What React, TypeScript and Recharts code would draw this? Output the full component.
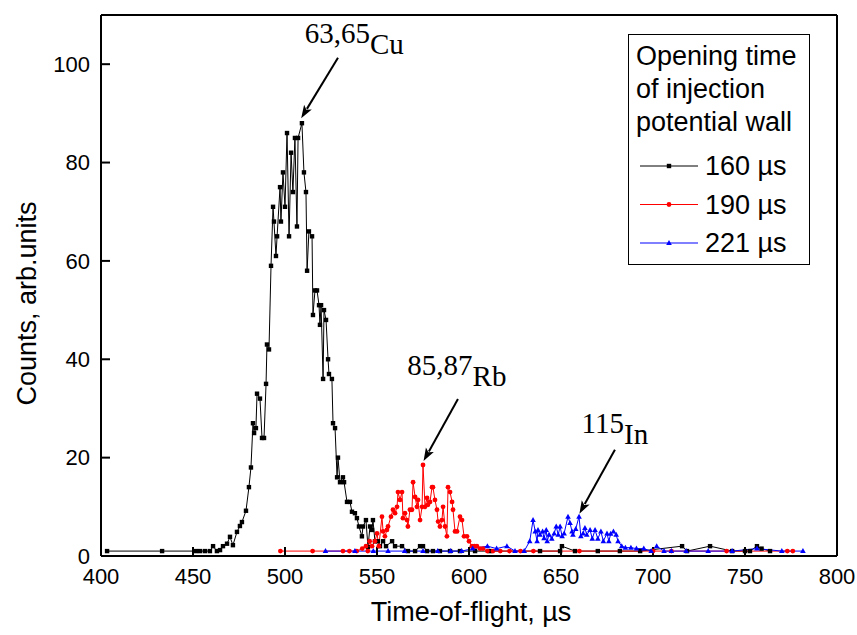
import React from 'react';
import { LineChart, Line, XAxis, YAxis, ReferenceLine, ReferenceDot, Legend } from 'recharts';

const xTicks = [400, 450, 500, 550, 600, 650, 700, 750, 800];
const yTicks = [0, 20, 40, 60, 80, 100];

const series160: [number, number][] = [
  [403.3, 1], [433.2, 1], [451.6, 1], [453.8, 1], [456.5, 1], [459.2, 1], [460.9, 2], [463, 1], [464.7, 1.2], [466.3, 2],
  [468.5, 2.5], [470.1, 3.9], [471.7, 2.2], [473.9, 4.9], [475.5, 6.1], [476.6, 6.9], [478.8, 9.2], [480.4, 14], [481.5, 18],
  [482.6, 27], [483.2, 25], [484.2, 26], [484.8, 33], [486.4, 32], [487.5, 24], [488.6, 24], [489.7, 35], [490.2, 43],
  [491.3, 42], [492.4, 59], [493.5, 71], [494, 68], [495.1, 61], [495.7, 65], [497.3, 75], [497.8, 68], [498.9, 78],
  [500, 71], [501.1, 86], [502.2, 65], [503.3, 82], [504.3, 74], [505.4, 85], [506.5, 67], [507.1, 85], [509.2, 88],
  [510.3, 78], [511.4, 74], [512, 58], [513, 66], [514.7, 65], [515.2, 49], [516.3, 54], [517.4, 54], [518.5, 51],
  [519, 47], [519.6, 51], [520.7, 36], [521.2, 50], [522.3, 48], [523.4, 40], [523.9, 37], [525.5, 36], [526.1, 27],
  [527.2, 26], [528.3, 16], [528.8, 20], [529.9, 15], [531.5, 16], [532.1, 15], [533.7, 11], [535.3, 11], [536.4, 9],
  [538, 8.7], [539.1, 7.7], [540.2, 6], [541.8, 4], [542.4, 6], [544, 7.3], [545.1, 1.8], [546.2, 6], [547.3, 5.3],
  [547.8, 7.3], [548.9, 3], [550.5, 3], [551.6, 2], [553.3, 3], [554.9, 2], [558.2, 3], [559.8, 2], [563.6, 2],
  [566.8, 1], [570.7, 1], [573.4, 2], [575, 2], [577.2, 1], [580.4, 1], [584.2, 1], [589.7, 1], [595.1, 1], [603.3, 1],
  [611.4, 1], [638.6, 1], [649.5, 1], [650.5, 2], [657.6, 1], [670, 1], [682, 1], [693, 1], [715.8, 2], [718.5, 1],
  [731, 2], [743, 1], [750, 1], [752.7, 1], [756.5, 2], [759, 1.5], [763.6, 1],
];

const series190: [number, number][] = [
  [497.5, 1], [515, 1], [531.5, 1], [535, 1], [539, 1], [542, 1.5], [544, 2], [545, 1], [546, 3], [547.3, 2], [548.9, 3],
  [550, 4.6], [551, 2], [552.7, 8], [553.3, 5], [554.3, 4], [555.4, 5.3], [556, 6], [557.6, 8], [558.7, 9.4], [559.8, 8.7],
  [560.9, 10], [561.4, 13], [562.5, 11.4], [563.6, 13], [564.1, 7.7], [565.2, 8.7], [566.3, 7.3], [566.8, 6], [567.9, 9.4],
  [569, 9.4], [569.6, 15], [570.7, 12], [571.7, 10], [572.3, 11.4], [573.4, 7.3], [574.5, 10], [575, 18.5], [576.1, 10],
  [577.2, 11.8], [577.7, 10.4], [578.8, 11], [579.9, 14], [580.4, 14], [581.5, 11.4], [582.6, 9.4], [583.2, 7], [584.2, 6],
  [585.3, 7.3], [585.9, 10], [587, 6], [588, 4], [588.6, 14], [589.7, 13], [590.8, 11], [591.3, 9.4], [592.4, 5],
  [593.5, 5], [595.1, 8], [596.2, 7.3], [597.3, 4], [598.9, 4], [600, 3], [601.6, 2], [603, 2], [604.3, 2], [606, 1.5],
  [607.6, 1.5], [610, 1], [613, 1], [617, 1], [622, 1], [628, 1], [635, 1], [660, 1], [700, 1], [710, 1], [740, 1],
  [773, 1], [776, 1],
];

const series221: [number, number][] = [
  [522, 1], [538, 1], [548, 1], [556, 1], [565, 1], [575, 1], [583, 1], [590, 1], [596, 1], [602, 1.5], [610, 2],
  [615, 1.5], [620.6, 2], [625, 1], [630, 1], [633, 3], [634.8, 7.3], [636, 5], [637, 3], [637.5, 5.3], [638.6, 4.3],
  [640, 5], [640.8, 3.6], [642, 5.3], [642.5, 3], [643.5, 4.3], [645, 3.5], [646.3, 4.6], [647.4, 6], [648.5, 4.3],
  [649.5, 6], [650.6, 4], [651.7, 4.6], [653.8, 8], [654.9, 6.7], [656, 5], [656.5, 4.3], [658, 5.5], [659.8, 8],
  [660.8, 4], [662, 4.6], [663, 5.7], [664, 4.3], [665.8, 5.3], [667, 3.5], [668.5, 5.3], [670, 3.5], [671.7, 5],
  [673, 3], [675, 4.6], [676, 3], [677, 4.5], [678.5, 5], [680, 4.3], [681, 3], [683, 2], [685, 1.7], [688, 1.7],
  [691, 1.5], [695, 1.5], [699, 1], [702, 2], [706, 1], [710, 1], [718, 1], [730, 1], [743, 1], [756.5, 1.5],
  [770, 1], [781.5, 1],
];

const seriesNames = ['160 \u00b5s', '190 \u00b5s', '221 \u00b5s'];
const seriesColors = ['#000000', '#ff0000', '#0000ff'];
const seriesMarkers = ['square', 'circle', 'triangle'];
const legendTitle = ['Opening time', 'of injection', 'potential wall'];

const peakMass = ['63,65', '85,87', '115'];
const peakElement = ['Cu', 'Rb', 'In'];
const peakLabelAt: [number, number][] = [[510.7, 104.3], [566.5, 36.8], [661.2, 25]];
const arrowFrom: [number, number][] = [[528.8, 101.3], [594, 31.9], [679.3, 21.6]];
const arrowTo: [number, number][] = [[508.8, 89], [575.3, 19.3], [660, 8.6]];

const allSeries = [series160, series190, series221].map((s) => s.map(([t, v]) => ({ t, v })));

const SANS = "'Liberation Sans', Arial, Helvetica, sans-serif";
const SERIF = "'Liberation Serif', 'Times New Roman', serif";

function makeDot(kind: string, color: string) {
  return (p: any) => {
    const { cx, cy, index } = p;
    if (cx == null || cy == null) return <g key={`d-${index}`} />;
    if (kind === 'square')
      return <rect key={`d-${index}`} x={cx - 2.2} y={cy - 2.2} width={4.4} height={4.4} fill={color} />;
    if (kind === 'circle') return <circle key={`d-${index}`} cx={cx} cy={cy} r={2.4} fill={color} />;
    return (
      <polygon key={`d-${index}`} points={`${cx},${cy - 3} ${cx - 2.8},${cy + 2} ${cx + 2.8},${cy + 2}`} fill={color} />
    );
  };
}

const ArrowShape = (p: any) => {
  const { x1, y1, x2, y2 } = p;
  const dx = x2 - x1;
  const dy = y2 - y1;
  const len = Math.sqrt(dx * dx + dy * dy) || 1;
  const ux = dx / len;
  const uy = dy / len;
  const hl = 13;
  const hw = 4.5;
  const bx = x2 - ux * hl;
  const by = y2 - uy * hl;
  const px = -uy;
  const py = ux;
  return (
    <g>
      <line x1={x1} y1={y1} x2={bx + ux * 2} y2={by + uy * 2} stroke="#000" strokeWidth={2} />
      <polygon
        points={`${x2},${y2} ${bx + px * hw},${by + py * hw} ${bx + ux * 3},${by + uy * 3} ${bx - px * hw},${by - py * hw}`}
        fill="#000"
      />
    </g>
  );
};

const LEG_W = 181;
const LEG_H = 230;

const renderLegend = () => (
  <svg width={LEG_W + 1} height={LEG_H + 1} style={{ display: 'block' }}>
    <rect x={0.5} y={0.5} width={LEG_W} height={LEG_H} fill="#fff" stroke="#000" strokeWidth={1} />
    {legendTitle.map((line, i) => (
      <text key={line} x={8} y={31 + i * 33} fontFamily={SANS} fontSize={27} fill="#000">
        {line}
      </text>
    ))}
    {seriesNames.map((name, i) => {
      const y = 141 + i * 38.5;
      const dot = makeDot(seriesMarkers[i], seriesColors[i]);
      return (
        <g key={name}>
          <line x1={12} y1={y - 9} x2={70} y2={y - 9} stroke={seriesColors[i]} strokeWidth={1} />
          {dot({ cx: 41, cy: y - 9, index: i })}
          <text x={77} y={y} fontFamily={SANS} fontSize={27} fill="#000">
            {name}
          </text>
        </g>
      );
    })}
  </svg>
);

const axisLineStyle = { stroke: '#000', strokeWidth: 2 };
const tickStyle = { fill: '#000', fontSize: 22, fontFamily: SANS };

export default function App() {
  return (
    <div style={{ position: 'absolute', left: 0, top: 0, width: 857, height: 635, background: '#fff' }}>
      <LineChart width={857} height={635} margin={{ top: 14, right: 19, bottom: 0, left: 0 }}>
        <XAxis
          xAxisId="b"
          dataKey="t"
          type="number"
          domain={[400, 800]}
          ticks={xTicks}
          allowDataOverflow
          height={79}
          axisLine={axisLineStyle}
          tickLine={axisLineStyle}
          tickSize={-9}
          tickMargin={21}
          tick={tickStyle}
          label={(props: any) => {
            const vb = props.viewBox || {};
            return (
              <text
                x={vb.x + vb.width / 2 + 2}
                y={621}
                textAnchor="middle"
                fontFamily={SANS}
                fontSize={27}
                fill="#000"
              >
                Time-of-flight, {'\u00b5'}s
              </text>
            );
          }}
        />
        <XAxis
          xAxisId="top"
          orientation="top"
          type="number"
          dataKey="t"
          domain={[400, 800]}
          ticks={xTicks}
          allowDataOverflow
          height={1}
          axisLine={axisLineStyle}
          tickLine={axisLineStyle}
          tickSize={-9}
          tick={false}
        />
        <YAxis
          yAxisId="l"
          type="number"
          domain={[0, 110]}
          ticks={yTicks}
          allowDataOverflow
          width={101}
          axisLine={axisLineStyle}
          tickLine={axisLineStyle}
          tickSize={-9}
          tickMargin={20}
          tick={tickStyle}
          label={(props: any) => {
            const vb = props.viewBox || {};
            const cy = vb.y + vb.height / 2 + 18;
            return (
              <text
                x={27}
                y={cy}
                transform={`rotate(-90, 27, ${cy})`}
                textAnchor="middle"
                dominantBaseline="central"
                fontFamily={SANS}
                fontSize={27}
                fill="#000"
              >
                Counts, arb.units
              </text>
            );
          }}
        />
        <YAxis
          yAxisId="r"
          orientation="right"
          type="number"
          domain={[0, 110]}
          ticks={yTicks}
          allowDataOverflow
          width={1}
          axisLine={axisLineStyle}
          tickLine={axisLineStyle}
          tickSize={-9}
          tick={false}
        />
        {allSeries.map((data, i) => (
          <Line
            key={seriesNames[i]}
            xAxisId="b"
            yAxisId="l"
            data={data}
            dataKey="v"
            name={seriesNames[i]}
            type="linear"
            stroke={seriesColors[i]}
            strokeWidth={1}
            dot={makeDot(seriesMarkers[i], seriesColors[i])}
            activeDot={false}
            isAnimationActive={false}
          />
        ))}
        {arrowFrom.map((from, i) => (
          <ReferenceLine
            key={`arrow-${i}`}
            xAxisId="b"
            yAxisId="l"
            segment={[
              { x: from[0], y: from[1] },
              { x: arrowTo[i][0], y: arrowTo[i][1] },
            ]}
            shape={ArrowShape}
          />
        ))}
        {peakLabelAt.map((pos, i) => (
          <ReferenceDot
            key={`lbl-${i}`}
            xAxisId="b"
            yAxisId="l"
            x={pos[0]}
            y={pos[1]}
            r={0}
            shape={(p: any) => (
              <text x={p.cx} y={p.cy} fontFamily={SERIF} fontSize={29} fill="#000">
                {peakMass[i]}
                <tspan dy={11}>{peakElement[i]}</tspan>
              </text>
            )}
          />
        ))}
        <Legend
          layout="vertical"
          align="center"
          verticalAlign="middle"
          content={renderLegend}
          wrapperStyle={{ left: 628, top: 34, width: LEG_W + 1, height: LEG_H + 1 }}
        />
      </LineChart>
    </div>
  );
}
